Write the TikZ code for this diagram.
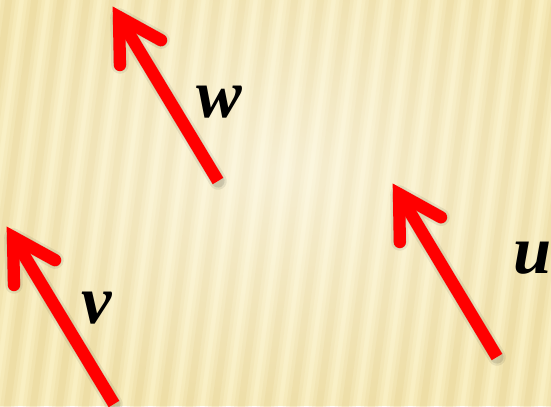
\documentclass[tikz,border=0pt]{standalone}
\usepackage{fontspec}
\setmainfont{Liberation Serif}
\usetikzlibrary{calc,fadings}
\definecolor{paper}{RGB}{249,239,194}
\definecolor{stripe}{RGB}{230,208,140}
\definecolor{vecred}{RGB}{255,0,0}
\tikzfading[name=softglow,inner color=transparent!0,outer color=transparent!100]
\tikzset{
  groove/.style={draw=stripe,line cap=butt},
  shaft/.style={draw=vecred,line width=7pt,line cap=butt},
  barb/.style={draw=vecred,line width=7pt,line cap=round,line join=miter},
  vshade/.style={draw=black,line cap=round,line join=round},
  vlab/.style={font=\fontsize{39}{42}\selectfont\bfseries\itshape,text=black,inner sep=0pt},
}

\begin{document}
\begin{tikzpicture}[x=0.02cm,y=-0.02cm]
  \useasboundingbox (0,0) rectangle (551,406);
  \begin{scope}
    \clip (0,0) rectangle (551,406);
    \fill[paper] (0,0) rectangle (551,406);
    % slanted grooves of the paper
    \foreach \x in {-72,-46,...,570} {
      \draw[groove,line width=12pt,opacity=0.15] (\x,416) -- (\x+56,-10);
      \draw[groove,line width=8pt,opacity=0.2] (\x,416) -- (\x+56,-10);
      \draw[groove,line width=4pt,opacity=0.25] (\x,416) -- (\x+56,-10);
    }
    \fill[white,opacity=0.5,path fading=softglow] (-40,-80) rectangle (600,420);
  \end{scope}

  \coordinate (wtail) at (218,181);
  \coordinate (wtip) at (119,17);
  \coordinate (vtail) at (114,404);
  \coordinate (vtip) at (13,237);
  \coordinate (utail) at (497,357);
  \coordinate (utip) at (399,194);

  \coordinate (wl) at ($(wtip)!0.96cm!30:(wtail)$);
  \coordinate (wr) at ($(wtip)!0.96cm!-30:(wtail)$);
  \coordinate (vl) at ($(vtip)!0.96cm!30:(vtail)$);
  \coordinate (vr) at ($(vtip)!0.96cm!-30:(vtail)$);
  \coordinate (ul) at ($(utip)!0.96cm!30:(utail)$);
  \coordinate (ur) at ($(utip)!0.96cm!-30:(utail)$);

  % soft shadows
  \begin{scope}[shift={(3,4)}]
    \draw[vshade,line width=10pt,opacity=0.07] (wl) -- (wtip) -- (wr) (wtip) -- (wtail);
    \draw[vshade,line width=7.5pt,opacity=0.1] (wl) -- (wtip) -- (wr) (wtip) -- (wtail);
    \draw[vshade,line width=10pt,opacity=0.07] (vl) -- (vtip) -- (vr) (vtip) -- (vtail);
    \draw[vshade,line width=7.5pt,opacity=0.1] (vl) -- (vtip) -- (vr) (vtip) -- (vtail);
    \draw[vshade,line width=10pt,opacity=0.07] (ul) -- (utip) -- (ur) (utip) -- (utail);
    \draw[vshade,line width=7.5pt,opacity=0.1] (ul) -- (utip) -- (ur) (utip) -- (utail);
  \end{scope}

  \draw[shaft] (wtail) -- (wtip);
  \draw[barb] (wl) -- (wtip) -- (wr);
  \draw[shaft] (vtail) -- (vtip);
  \draw[barb] (vl) -- (vtip) -- (vr);
  \draw[shaft] (utail) -- (utip);
  \draw[barb] (ul) -- (utip) -- (ur);

  \node[vlab] (wlab) at (219,102) {w};
  \node[vlab] (vlab) at (97,308) {v};
  \node[vlab] (ulab) at (533,258) {u};
\end{tikzpicture}
\end{document}
